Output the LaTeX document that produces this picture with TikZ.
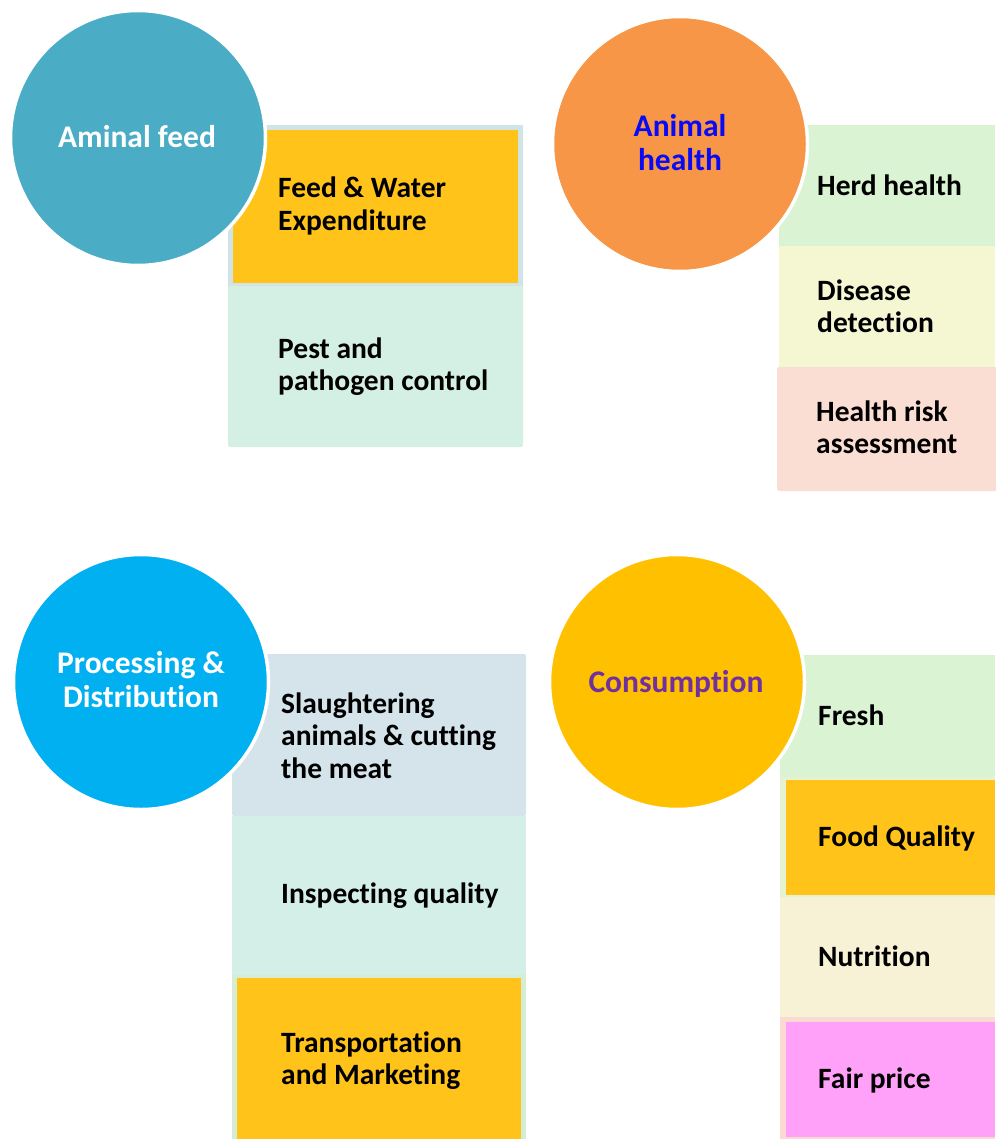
\documentclass[tikz,border=0pt]{standalone}
\usepackage{fontspec}
\setmainfont{Carlito}[Ligatures={NoCommon}]
\definecolor{cfeed}{HTML}{4BACC6}
\definecolor{chealth}{HTML}{F79646}
\definecolor{cproc}{HTML}{00B0F0}
\definecolor{ccons}{HTML}{FFC000}
\definecolor{orng}{HTML}{FFC31A}
\definecolor{edgeA}{HTML}{D0E3E6}
\definecolor{pestc}{HTML}{D4EFE3}
\definecolor{herdc}{HTML}{D9F3D3}
\definecolor{disc}{HTML}{F5F7D3}
\definecolor{riskc}{HTML}{FBDED3}
\definecolor{slauc}{HTML}{D4E4EA}
\definecolor{inspc}{HTML}{D4EEE8}
\definecolor{tranc}{HTML}{D6EDD3}
\definecolor{fqedge}{HTML}{E6F3D3}
\definecolor{nutc}{HTML}{F7F1D5}
\definecolor{fairedge}{HTML}{FCD9D2}
\definecolor{pinkc}{HTML}{FFA0F9}
\definecolor{blueT}{HTML}{0A0AF5}
\definecolor{purpT}{HTML}{7030A0}
\tikzset{
  hub/.style={circle, draw=white, line width=3.5pt, inner sep=0pt, minimum size=255pt},
  title/.style={font=\fontsize{31.5}{34}\selectfont\bfseries, align=center, inner sep=0pt},
  item/.style={font=\fontsize{29.5}{32.5}\selectfont\bfseries, text width=240pt, align=left, inner sep=0pt, anchor=base west, text=black,
    execute at begin node={\spaceskip=0pt\xspaceskip=0pt\relax}},
}
\begin{document}
\begin{tikzpicture}[x=1pt,y=-1pt]
\useasboundingbox (0,0) rectangle (995,1139);
% ---------- Panel 1: Aminal feed ----------
\fill[pestc, rounded corners=2pt] (228,125) rectangle (523,447);
\fill[edgeA] (228,125) rectangle (523,286);
\fill[orng] (233,130) rectangle (518,283);
\node[item] (t1a) at (278,198) {Feed \& Water\\Expenditure};
\node[item] (t1b) at (278,358) {Pest and\\pathogen control};
\node[hub, fill=cfeed] (c1) at (138,138) {};
\node[title, text=white, anchor=base] (h1) at (137,148) {Aminal feed};
% ---------- Panel 2: Animal health ----------
\fill[herdc] (779,125) rectangle (995,246);
\fill[disc] (779,246) rectangle (995,367);
\fill[riskc, rounded corners=2pt] (777,367) rectangle (997,491);
\node[item] (t2a) at (817,196) {Herd health};
\node[item] (t2b) at (817,300) {Disease\\detection};
\node[item] (t2c) at (816,421) {Health risk\\assessment};
\node[hub, fill=chealth] (c2) at (680,144) {};
\node[title, text=blueT, anchor=base] (h2) at (680,171) {Animal\\health};
% ---------- Panel 3: Processing & Distribution ----------
\fill[slauc, rounded corners=2pt] (232,654) rectangle (526,816);
\fill[inspc] (232,816) rectangle (526,975);
\fill[tranc] (232,975) rectangle (526,1139);
\fill[orng] (237,978) rectangle (521,1139);
\node[item] (t3a) at (281,713) {Slaughtering\\animals \& cutting\\the meat};
\node[item] (t3b) at (281,903) {Inspecting quality};
\node[item] (t3c) at (281,1052) {Transportation\\and Marketing};
\node[hub, fill=cproc] (c3) at (141,682) {};
\node[title, text=white, anchor=base] (h3) at (141,707) {Processing \&\\Distribution};
% ---------- Panel 4: Consumption ----------
\fill[herdc] (780,655) rectangle (995,777);
\fill[fqedge] (780,777) rectangle (995,897);
\fill[orng] (786,780) rectangle (995,895);
\fill[nutc] (780,897) rectangle (995,1017);
\fill[fairedge] (780,1017) rectangle (995,1139);
\fill[pinkc] (786,1022) rectangle (995,1137);
\node[item] (t4a) at (818,725) {Fresh};
\node[item] (t4b) at (818,846) {Food Quality};
\node[item] (t4c) at (818,966) {Nutrition};
\node[item] (t4d) at (818,1088) {Fair price};
\node[hub, fill=ccons] (c4) at (677,682) {};
\node[title, text=purpT, anchor=base] (h4) at (676,692) {Consumption};
\end{tikzpicture}
\end{document}
